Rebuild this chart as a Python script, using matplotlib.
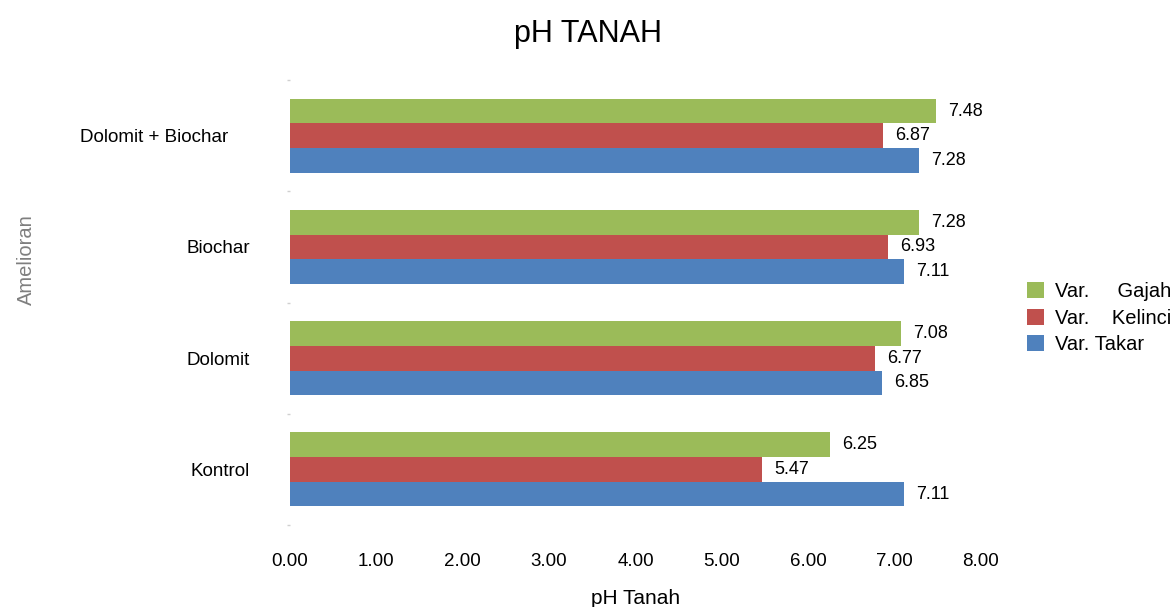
import numpy as np
import matplotlib.pyplot as plt
import matplotlib.transforms as mtransforms
from matplotlib.ticker import FixedLocator

plt.rcParams['font.family'] = ['Liberation Sans', 'DejaVu Sans']

categories = ['Kontrol', 'Dolomit', 'Biochar', 'Dolomit + Biochar']
takar = [7.11, 6.85, 7.11, 7.28]
kelinci = [5.47, 6.77, 6.93, 6.87]
gajah = [6.25, 7.08, 7.28, 7.48]
xticks = [0, 1, 2, 3, 4, 5, 6, 7, 8]

fig = plt.figure(figsize=(11.75, 6.07), dpi=100)
ax = fig.add_axes([0.2468, 0.135, 0.588, 0.733])

y = np.arange(len(categories))
h = 0.222
series = [
    (gajah, 'Var.     Gajah', '#9BBB59', h),
    (kelinci, 'Var.    Kelinci', '#C0504D', 0),
    (takar, 'Var. Takar', '#4F81BD', -h),
]
for vals, name, col, off in series:
    bars = ax.barh(y + off, vals, height=h, color=col, label=name)
    for b, v in zip(bars, vals):
        ax.text(v + 0.14, b.get_y() + h / 2, f'{v:.2f}', va='center', ha='left',
                fontsize=13, color='black')

ax.set_xlim(0, 8)
ax.set_ylim(-0.5, 3.5)
ax.set_xticks(xticks)
ax.set_xticklabels([f'{t:.2f}' for t in xticks], fontsize=13.5)
ax.set_yticks(y)
ax.set_yticklabels(categories, fontsize=13.5)
ax.yaxis.set_minor_locator(FixedLocator(np.arange(-0.5, 4, 1)))
ax.tick_params(axis='x', length=0, pad=20)
ax.tick_params(axis='y', which='major', length=0, pad=29)
ax.tick_params(axis='y', which='minor', length=2, color='#d0d0d0', width=1)
for s in ax.spines.values():
    s.set_visible(False)

# the long label sits a bit further left in the original
lbl = ax.get_yticklabels()[3]
lbl.set_transform(lbl.get_transform() + mtransforms.ScaledTranslation(-0.21, 0, fig.dpi_scale_trans))

ax.set_xlabel('pH Tanah', fontsize=15, labelpad=14)
ax.set_ylabel('Amelioran', fontsize=14.5, color='#7f7f7f')
ax.yaxis.set_label_coords(-0.368, 0.596)
fig.suptitle('pH TANAH', fontsize=22, y=0.968)

handles, labels = ax.get_legend_handles_labels()
ax.legend(handles, labels, loc='center left', bbox_to_anchor=(1.055, 0.465),
          frameon=False, fontsize=14.5, handlelength=0.85, handleheight=0.85,
          handletextpad=0.55, labelspacing=0.38, borderaxespad=0)

fig.savefig('out.png', dpi=100)
